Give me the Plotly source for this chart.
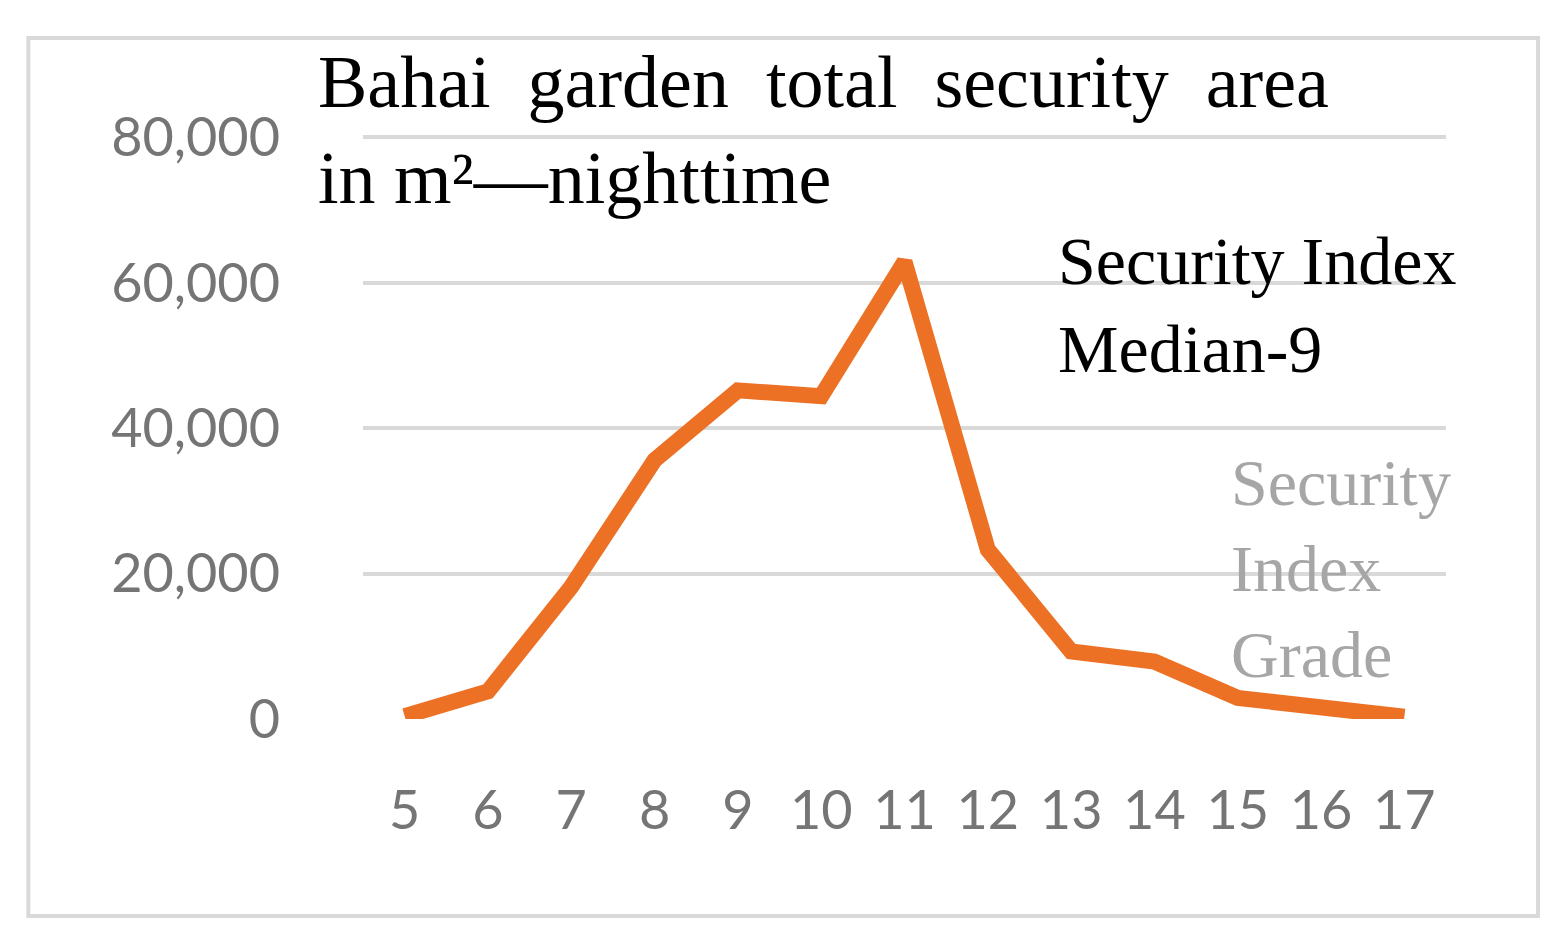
import plotly.graph_objects as go

hours = [5, 6, 7, 8, 9, 10, 11, 12, 13, 14, 15, 16, 17]
area = [400, 3800, 18200, 35600, 45200, 44400, 62900, 23300, 9300, 7900, 2900, 1500, 300]
y_ticks = [0, 20000, 40000, 60000, 80000]
y_labels = ["0", "20,000", "40,000", "60,000", "80,000"]

fig = go.Figure()
fig.add_trace(go.Scatter(x=hours, y=area, mode="lines",
                         line=dict(color="#ED7125", width=16, shape="linear"),
                         showlegend=False))

fig.update_layout(
    width=1567, height=934,
    paper_bgcolor="white", plot_bgcolor="white",
    margin=dict(l=355, r=129, t=125, b=223),
    xaxis=dict(range=[4.5, 17.5], tickvals=hours, ticktext=[str(h) for h in hours],
               showgrid=False, zeroline=False, showline=False, ticks="",
               tickfont=dict(family="Lato, Open Sans, sans-serif", size=54, color="#757575"),
               ticklabelstandoff=55),
    yaxis=dict(range=[0, 80600], tickvals=y_ticks, ticktext=y_labels,
               showgrid=True, gridcolor="#D9D9D9", gridwidth=4, zeroline=False,
               tickfont=dict(family="Lato, Open Sans, sans-serif", size=54, color="#757575"),
               ticklabelstandoff=82),
    shapes=[dict(type="rect", xref="paper", yref="paper", x0=-0.309, x1=1.085, y0=-0.336, y1=1.162,
                 line=dict(color="#D9D9D9", width=4), layer="below")],
    annotations=[
        dict(text="Bahai  garden  total  security  area<br>in m²—nighttime", xref="paper", yref="paper",
             x=-0.043, y=1.16, xanchor="left", yanchor="top", align="left", showarrow=False,
             font=dict(family="Liberation Serif, serif", size=74, color="black")),
        dict(text="Security Index<br>Median-9", xref="paper", yref="paper",
             x=0.64, y=0.85, xanchor="left", yanchor="top", align="left", showarrow=False,
             font=dict(family="Liberation Serif, serif", size=68, color="black")),
        dict(text="Security<br>Index<br>Grade", xref="paper", yref="paper",
             x=0.8, y=0.47, xanchor="left", yanchor="top", align="left", showarrow=False,
             font=dict(family="Liberation Serif, serif", size=66, color="#A6A6A6")),
    ],
)
fig.write_html("out.html")
